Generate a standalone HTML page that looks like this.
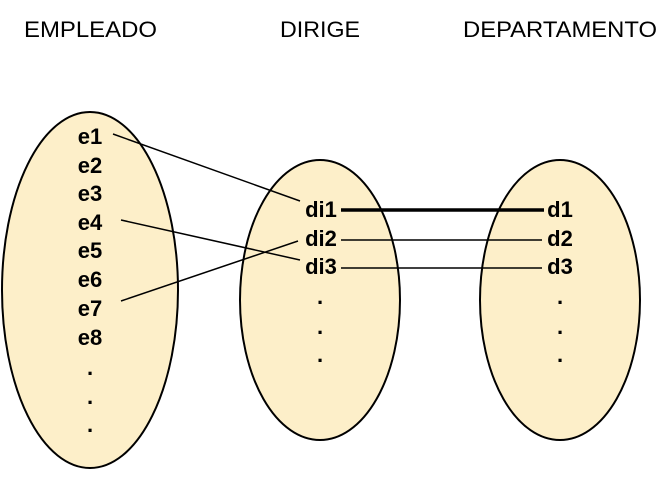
<!DOCTYPE html>
<html><head><meta charset="utf-8"><style>
html,body{margin:0;padding:0;background:#fff;}
svg{display:block;}
text{font-family:"Liberation Sans",Arial,sans-serif;}
.b{font-weight:bold;font-size:22px;}
.t{font-size:22px;}
</style></head><body>
<svg width="660" height="484" viewBox="0 0 660 484">
<text class="t" x="24" y="37" textLength="133" lengthAdjust="spacingAndGlyphs">EMPLEADO</text>
<text class="t" x="280" y="37" textLength="80" lengthAdjust="spacingAndGlyphs">DIRIGE</text>
<text class="t" x="463" y="37" textLength="194" lengthAdjust="spacingAndGlyphs">DEPARTAMENTO</text>

<ellipse cx="90" cy="290" rx="88" ry="178" fill="#fdefc9" stroke="#000" stroke-width="2"/>
<ellipse cx="320" cy="300" rx="80" ry="140" fill="#fdefc9" stroke="#000" stroke-width="2"/>
<ellipse cx="560" cy="300" rx="80" ry="140" fill="#fdefc9" stroke="#000" stroke-width="2"/>

<g class="b" text-anchor="middle">
<text x="90" y="144">e1</text><text x="90" y="173">e2</text><text x="90" y="201">e3</text>
<text x="90" y="230">e4</text><text x="90" y="258">e5</text><text x="90" y="287">e6</text>
<text x="90" y="316">e7</text><text x="90" y="345">e8</text>
<text x="90" y="375">.</text><text x="90" y="404">.</text><text x="90" y="432">.</text>
</g>
<g class="b" text-anchor="middle">
<text x="321" y="217">di1</text><text x="321" y="246">di2</text><text x="321" y="274">di3</text>
<text x="320" y="304">.</text><text x="320" y="334">.</text><text x="320" y="362">.</text>
</g>
<g class="b" text-anchor="middle">
<text x="560" y="217">d1</text><text x="560" y="246">d2</text><text x="560" y="274">d3</text>
<text x="560" y="304">.</text><text x="560" y="334">.</text><text x="560" y="362">.</text>
</g>

<g stroke="#000" stroke-width="1.5">
<line x1="113" y1="134" x2="300" y2="201"/>
<line x1="121" y1="220" x2="300" y2="260"/>
<line x1="121" y1="301" x2="298" y2="241"/>
<line x1="341" y1="210" x2="544" y2="210" stroke-width="3.5"/>
<line x1="341" y1="240" x2="542" y2="240"/>
<line x1="341" y1="268" x2="542" y2="268"/>
</g>
</svg>
</body></html>
